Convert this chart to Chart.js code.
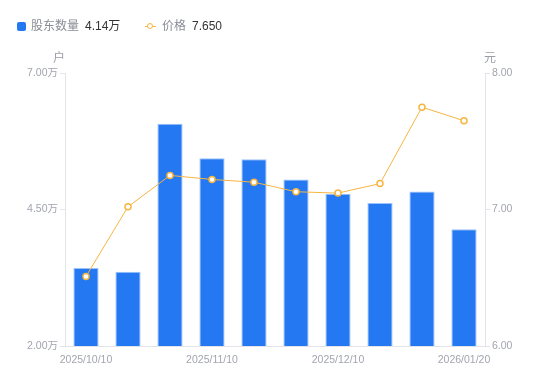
<!DOCTYPE html>
<html>
<head>
<meta charset="utf-8">
<script src="https://cdn.jsdelivr.net/npm/chart.js@4"></script>
<style>
  body { margin: 0; background: #fff; font-family: "Liberation Sans", "Noto Sans CJK SC", sans-serif; }
  #wrap { position: relative; width: 550px; height: 381px; }
  canvas { position: absolute; left: 0; top: 0; }
  .lg { position: absolute; top: 16px; font-size: 12px; color: #8a8d96; white-space: nowrap; }
  .lg b { font-weight: normal; color: #333; margin-left: 6px; }
  .sq { display: inline-block; width: 9px; height: 9px; background: #2478f2; border-radius: 2px; margin-right: 5px; vertical-align: -1px; }
  .ln { display: inline-block; position: relative; width: 11px; height: 9px; margin-right: 6px; vertical-align: -1px; }
  .ln:before { content: ""; position: absolute; left: 0; right: 0; top: 4px; height: 1px; background: #f7b541; }
  .ln:after { content: ""; position: absolute; left: 2px; top: 1px; width: 4px; height: 4px; border: 1.5px solid #f7b541; border-radius: 50%; background: #fff; }
  .unit { position: absolute; top: 48px; font-size: 12px; color: #9a9da6; }
</style>
</head>
<body>
<div id="wrap">
  <canvas id="grafico" width="550" height="381"></canvas>
  <div class="lg" style="left:17px"><span class="sq"></span>股东数量<b>4.14万</b></div>
  <div class="lg" style="left:145px"><span class="ln"></span>价格<b>7.650</b></div>
  <div class="unit" style="left:53px">户</div>
  <div class="unit" style="left:484px">元</div>
</div>
<script>
const datas = ['2025/10/10', '2025/10/20', '2025/10/31', '2025/11/10', '2025/11/20', '2025/11/28',
               '2025/12/10', '2025/12/19', '2025/12/31', '2026/01/20'];
// numero de acionistas (em 万)
const acionistas = [3.43, 3.36, 6.07, 5.44, 5.42, 5.05, 4.79, 4.62, 4.83, 4.14];
// preco (元)
const precos = [6.51, 7.02, 7.25, 7.22, 7.20, 7.13, 7.12, 7.19, 7.75, 7.65];
const ticksEsq = [2, 4.5, 7];
const ticksDir = [6, 7, 8];
const labelsVisiveis = [0, 3, 6, 9];

const corEixo = '#e3e4ea';
const corTexto = '#a2a5ae';
const fonte = { family: '"Liberation Sans", "Noto Sans CJK SC", sans-serif', size: 10.5 };

const ctx = document.getElementById('grafico').getContext('2d');
new Chart(ctx, {
  data: {
    labels: datas,
    datasets: [
      {
        type: 'line',
        label: '价格',
        data: precos,
        yAxisID: 'y1',
        borderColor: '#f7b541',
        borderWidth: 1,
        pointRadius: 3,
        pointBorderWidth: 1.5,
        pointBackgroundColor: '#fff',
        pointBorderColor: '#f7b541',
        tension: 0,
        order: 0
      },
      {
        type: 'bar',
        label: '股东数量',
        data: acionistas,
        yAxisID: 'y',
        backgroundColor: '#2478f2',
        borderColor: '#9cc2fa',
        borderWidth: 1,
        borderSkipped: 'bottom',
        categoryPercentage: 1,
        barPercentage: 0.6,
        order: 1
      }
    ]
  },
  options: {
    responsive: false,
    animation: false,
    layout: { padding: { top: 73, bottom: 0, left: 0, right: 0 } },
    plugins: { legend: { display: false }, tooltip: { enabled: false } },
    scales: {
      x: {
        grid: { display: false },
        border: { color: corEixo },
        ticks: {
          autoSkip: false, maxRotation: 0, color: corTexto, font: fonte, padding: 0,
          callback: (v, i) => labelsVisiveis.includes(i) ? datas[i] : ''
        },
        afterFit: s => { s.height = 35; }
      },
      y: {
        position: 'left', min: 2, max: 7,
        grid: { drawOnChartArea: false, color: corEixo, tickLength: 5 },
        border: { color: corEixo },
        ticks: { color: corTexto, font: fonte, padding: 2, callback: v => v.toFixed(2) + '万' },
        afterBuildTicks: s => { s.ticks = ticksEsq.map(v => ({ value: v })); },
        afterFit: s => { s.width = 65; }
      },
      y1: {
        position: 'right', min: 6, max: 8,
        grid: { drawOnChartArea: false, color: corEixo, tickLength: 5 },
        border: { color: corEixo },
        ticks: { color: corTexto, font: fonte, padding: 2, callback: v => v.toFixed(2) },
        afterBuildTicks: s => { s.ticks = ticksDir.map(v => ({ value: v })); },
        afterFit: s => { s.width = 65; }
      }
    }
  }
});
</script>
</body>
</html>
